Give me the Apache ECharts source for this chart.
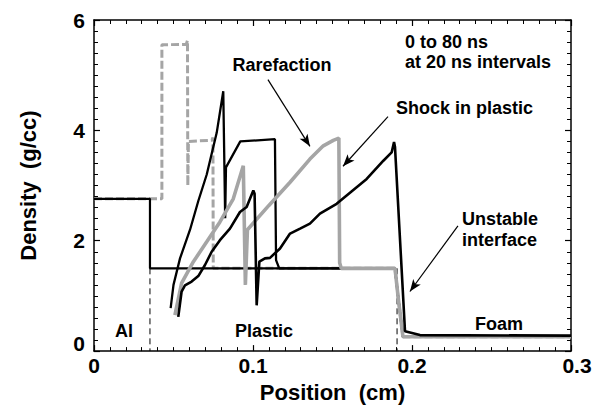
<!DOCTYPE html>
<html>
<head>
<meta charset="utf-8">
<script src="https://cdn.jsdelivr.net/npm/echarts@6/dist/echarts.min.js"></script>
<style>
html,body{margin:0;padding:0;background:#fff;}
#chart{width:599px;height:408px;}
</style>
</head>
<body>
<div id="chart"></div>
<script>
// ---- data (position in cm, density in g/cc) ----
const xTicks = [0, 0.1, 0.2, 0.3];
const yTicks = [0, 2, 4, 6];

// t = 0 ns (black)
const t0 = [[0,2.76],[0.0352,2.76],[0.0352,1.5],[0.1893,1.5],[0.1912,1.0],[0.1943,0.26],[0.3,0.26]];
// t = 20 ns (gray dashed)
const t20 = [[0,2.76],[0.0427,2.76],[0.0427,5.55],[0.0580,5.56],[0.0588,5.63],[0.0590,3.0],[0.0594,3.80],[0.0742,3.82],[0.0748,3.87],[0.0750,1.5],[0.1893,1.5],[0.1912,1.0],[0.1943,0.26],[0.3,0.26]];
// t = 40 ns (black)
const t40 = [[0.0482,0.78],[0.0500,1.2],[0.0541,1.68],[0.0604,2.2],[0.0656,2.72],[0.0709,3.2],[0.0772,3.96],[0.0813,4.71],[0.0825,2.41],[0.0830,3.33],[0.0920,3.80],[0.1138,3.84],[0.1145,1.65],[0.1165,1.5],[0.1893,1.5],[0.1912,1.0],[0.1943,0.26],[0.3,0.26]];
// t = 60 ns (gray)
const t60 = [[0.0509,0.65],[0.0551,1.23],[0.0625,1.62],[0.0709,1.98],[0.0792,2.34],[0.0876,2.76],[0.0939,3.36],[0.0952,1.2],[0.0965,2.2],[0.1100,2.64],[0.1233,3.06],[0.1358,3.48],[0.1442,3.72],[0.1505,3.82],[0.1540,3.86],[0.1545,1.6],[0.1555,1.5],[0.1893,1.5],[0.1912,1.0],[0.1943,0.26],[0.3,0.26]];
// t = 80 ns (black)
const t80 = [[0.0530,0.62],[0.0551,1.08],[0.0572,1.19],[0.0614,1.26],[0.0656,1.36],[0.0698,1.56],[0.0740,1.80],[0.0792,2.01],[0.0855,2.22],[0.0918,2.52],[0.0960,2.61],[0.1002,2.91],[0.1010,2.85],[0.1023,0.83],[0.1040,1.62],[0.1075,1.68],[0.1107,1.69],[0.1170,1.86],[0.1233,2.13],[0.1296,2.22],[0.1358,2.31],[0.1421,2.49],[0.1526,2.67],[0.1715,3.12],[0.1820,3.45],[0.1872,3.60],[0.1887,3.79],[0.1893,3.70],[0.1956,0.36],[0.2050,0.29],[0.3,0.28]];
// interface markers (dashed)
const alInterface = [[0.0352,1.5],[0.0352,0]];
const foamInterface = [[0.1906,1.5],[0.1906,0]];

// annotation texts [text, x, y, align]
const notes = [
  ['0 to 80 ns', 0.1956, 5.60, 'left'],
  ['at 20 ns intervals', 0.1956, 5.24, 'left'],
  ['Rarefaction', 0.1182, 5.19, 'center'],
  ['Shock in plastic', 0.1899, 4.40, 'left'],
  ['Unstable', 0.2314, 2.40, 'left'],
  ['interface', 0.2314, 2.02, 'left'],
  ['Foam', 0.2396, 0.49, 'left'],
  ['Al', 0.0189, 0.36, 'center'],
  ['Plastic', 0.0887, 0.36, 'left']
];
// arrows [[fromX, fromY], [toX, toY]]
const arrows = [
  [[0.1094,4.92],[0.1358,3.71]],
  [[0.1849,4.25],[0.1566,3.35]],
  [[0.2289,2.27],[0.1987,1.08]]
];

const FONT = '"Liberation Sans", Arial, Helvetica, sans-serif';
const GRAY = '#a5a5a5';
const SP2 = ' \u00a0'; // double space

const chart = echarts.init(document.getElementById('chart'), null, {renderer: 'svg'});

function fmt1(v){ return Number(v.toFixed(2)); }

const axisCommon = {
  axisLine: {show: true, onZero: false, lineStyle: {color: '#000', width: 1.5}},
  axisTick: {show: true, inside: true, length: 6, lineStyle: {color: '#000', width: 1.2}},
  minorTick: {show: true, splitNumber: 10, length: 4, lineStyle: {color: '#000', width: 1}},
  splitLine: {show: false},
  minorSplitLine: {show: false}
};

const option = {
  animation: false,
  backgroundColor: '#fff',
  grid: {left: 94, right: 28, top: 20, bottom: 55, containLabel: false},
  xAxis: [
    Object.assign({
      type: 'value', min: xTicks[0], max: xTicks[xTicks.length-1], interval: 0.1, position: 'bottom',
      name: 'Position' + SP2 + '(cm)', nameLocation: 'middle', nameGap: 27,
      nameTextStyle: {fontSize: 22, fontWeight: 'bold', color: '#000', fontFamily: FONT},
      axisLabel: {
        margin: 4, fontSize: 21, fontWeight: 'bold', color: '#000', fontFamily: FONT,
        formatter: function(v){ const n = fmt1(v); return n === 0.3 ? '{r|0.3}' : String(n); },
        rich: {r: {fontSize: 21, fontWeight: 'bold', color: '#000', fontFamily: FONT, padding: [0,0,0,12]}}
      }
    }, axisCommon),
    Object.assign({
      type: 'value', min: xTicks[0], max: xTicks[xTicks.length-1], interval: 0.1, position: 'top',
      axisLabel: {show: false}
    }, axisCommon)
  ],
  yAxis: [
    Object.assign({
      type: 'value', min: yTicks[0], max: yTicks[yTicks.length-1], interval: 2, position: 'left',
      name: 'Density' + SP2 + '(g/cc)', nameLocation: 'middle', nameGap: 55, nameRotate: 90,
      nameTextStyle: {fontSize: 22, fontWeight: 'bold', color: '#000', fontFamily: FONT},
      axisLabel: {
        margin: 9, fontSize: 21, fontWeight: 'bold', color: '#000', fontFamily: FONT,
        formatter: function(v){ return v === 0 ? '{z|0}' : String(v); },
        rich: {z: {fontSize: 21, fontWeight: 'bold', color: '#000', fontFamily: FONT, padding: [0,0,16,0]}}
      }
    }, axisCommon),
    Object.assign({
      type: 'value', min: yTicks[0], max: yTicks[yTicks.length-1], interval: 2, position: 'right',
      axisLabel: {show: false}
    }, axisCommon)
  ],
  series: [
    {type: 'line', data: alInterface, showSymbol: false, silent: true,
     lineStyle: {color: '#000', width: 1, type: [6,4]}},
    {type: 'line', data: foamInterface, showSymbol: false, silent: true,
     lineStyle: {color: '#000', width: 1, type: [6,4]}},
    {type: 'line', name: '20 ns', data: t20, showSymbol: false, silent: true,
     lineStyle: {color: GRAY, width: 3, type: [8,3]}},
    {type: 'line', name: '0 ns', data: t0, showSymbol: false, silent: true,
     lineStyle: {color: '#000', width: 2.2}},
    {type: 'line', name: '40 ns', data: t40, showSymbol: false, silent: true,
     lineStyle: {color: '#000', width: 2.3}},
    {type: 'line', name: '60 ns', data: t60, showSymbol: false, silent: true,
     lineStyle: {color: GRAY, width: 3.6}},
    {type: 'line', name: '80 ns', data: t80, showSymbol: false, silent: true,
     lineStyle: {color: '#000', width: 2.6},
     markLine: {
       silent: true, animation: false,
       symbol: ['none', 'arrow'], symbolSize: [7, 12],
       label: {show: false},
       lineStyle: {color: '#000', width: 1.2, type: 'solid'},
       data: arrows.map(a => [{coord: a[0], symbol: 'none'}, {coord: a[1], symbol: 'arrow'}])
     }}
  ]
};
chart.setOption(option);

const graphics = notes.map(n => {
  const p = chart.convertToPixel({xAxisIndex: 0, yAxisIndex: 0}, [n[1], n[2]]);
  return {
    type: 'text', x: p[0], y: p[1], silent: true,
    style: {text: n[0], fill: '#000', font: 'bold 18px ' + FONT, textAlign: n[3], textVerticalAlign: 'middle'}
  };
});
chart.setOption({graphic: graphics});
</script>
</body>
</html>
